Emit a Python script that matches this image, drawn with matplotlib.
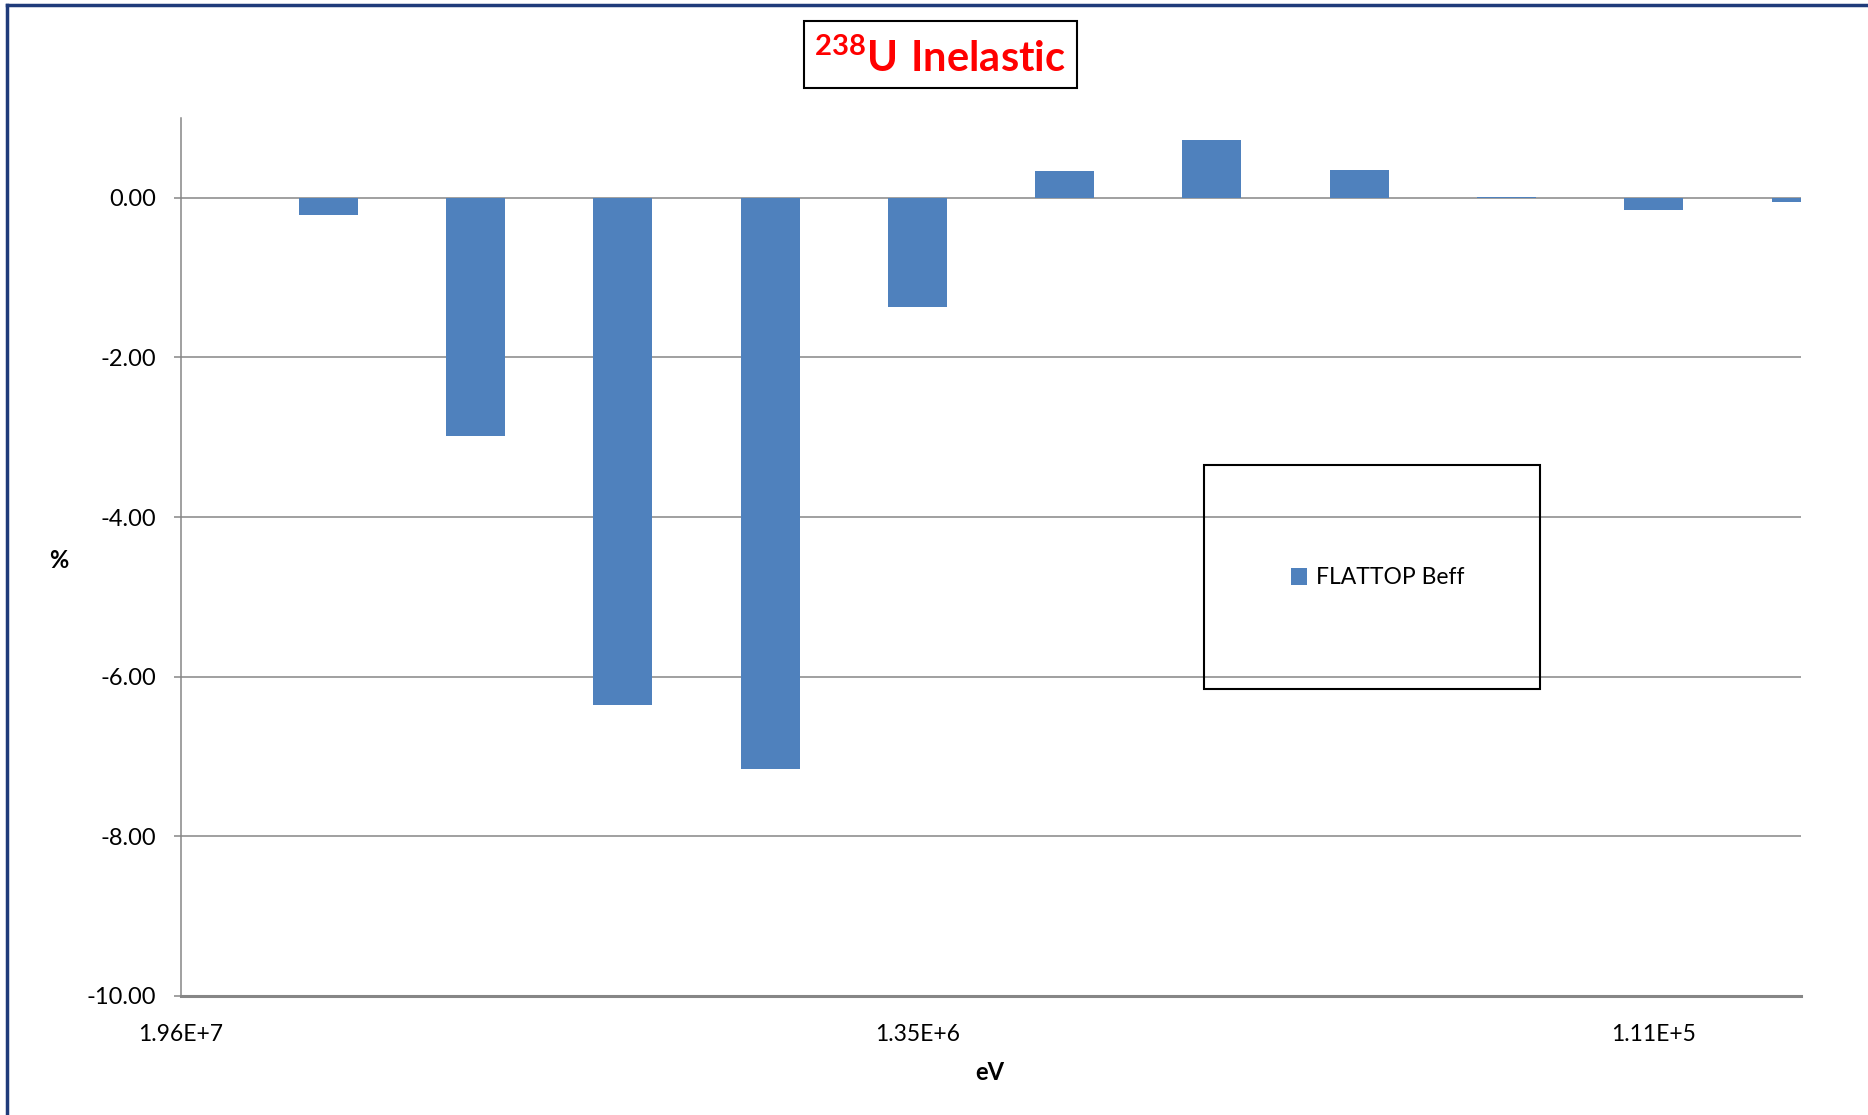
import numpy as np
import matplotlib
matplotlib.use('Agg')
import matplotlib.pyplot as plt
from matplotlib.lines import Line2D
from matplotlib.patches import Rectangle
from matplotlib.ticker import FormatStrFormatter

plt.rcParams['font.family'] = ['Lato', 'DejaVu Sans']
plt.rcParams['axes.unicode_minus'] = False
plt.rcParams['mathtext.fontset'] = 'custom'
plt.rcParams['mathtext.bf'] = 'Lato:bold'
plt.rcParams['mathtext.rm'] = 'Lato'

# Sensitivity per energy group (%), groups ordered from high to low energy
group_index = np.arange(12)
sensitivity = [0.0, -0.22, -2.99, -6.35, -7.15, -1.37, 0.33, 0.72, 0.35, 0.01, -0.15, -0.05]
tick_groups = [0, 5, 10]
tick_labels = ['1.96E+7', '1.35E+6', '1.11E+5']
series_name = 'FLATTOP Beff'

W, H = 1868, 1115
fig = plt.figure(figsize=(W / 100, H / 100), dpi=100)
ax = fig.add_axes([181 / W, 1 - 996 / H, (1801 - 181) / W, (996 - 118) / H])

grid_col = '#868686'
bar_col = '#4F81BD'

ax.bar(group_index, sensitivity, width=0.4, color=bar_col,
       linewidth=0, zorder=3, label=series_name)

ax.set_xlim(0, 11)
ax.set_ylim(-10, 1)
ax.set_yticks(np.arange(-10, 0.1, 2))
ax.yaxis.set_major_formatter(FormatStrFormatter('%.2f'))
ax.set_xticks(tick_groups)
ax.set_xticklabels(tick_labels)

ax.yaxis.grid(True, color=grid_col, linewidth=1.1, zorder=0)
ax.set_axisbelow(True)
for s in ['top', 'right']:
    ax.spines[s].set_visible(False)
ax.spines['left'].set_color(grid_col)
ax.spines['left'].set_linewidth(1.1)
ax.spines['bottom'].set_color(grid_col)
ax.spines['bottom'].set_linewidth(2.2)

ax.tick_params(axis='y', length=5, width=1.1, color=grid_col, pad=13, labelsize=17)
ax.tick_params(axis='x', length=0, pad=20, labelsize=16.5)

ax.set_ylabel('%', fontsize=17, fontweight='bold', rotation=0, va='center', ha='center')
ax.yaxis.set_label_coords((59 - 181) / 1620, (996 - 561) / 878)
ax.set_xlabel('eV', fontsize=17, fontweight='bold', va='center')
ax.xaxis.set_label_coords((990 - 181) / 1620, -(1072 - 996) / 878)

# legend, centred inside its own frame
lx0, lx1, ly0, ly1 = 1204, 1540, 465, 689
ax.add_patch(Rectangle(((lx0 - 181) / 1620, (996 - ly1) / 878),
                       (lx1 - lx0) / 1620, (ly1 - ly0) / 878,
                       transform=ax.transAxes, fill=False, edgecolor='black',
                       linewidth=1.5, zorder=5, clip_on=False))
ax.legend(loc='center', frameon=False, fontsize=16.5,
          bbox_to_anchor=((1378 - 181) / 1620, (996 - 578) / 878),
          handlelength=0.7, handleheight=0.7, handletextpad=0.4)

# title with superscript mass number inside a box
fig.text(940 / W, 1 - 58 / H, r'$\mathbf{^{238}U\ Inelastic}$', color='#FF0000',
         fontsize=30, ha='center', va='center')
fig.add_artist(Rectangle((804 / W, 1 - 88 / H), (1077 - 804) / W, (88 - 21) / H,
                         transform=fig.transFigure, fill=False,
                         edgecolor='black', linewidth=1.5))

# outer chart border (top and left edges)
border = '#1F3B7A'
fig.add_artist(Line2D([7 / W, 1], [1 - 5 / H, 1 - 5 / H], transform=fig.transFigure,
                      color=border, linewidth=2.5))
fig.add_artist(Line2D([7 / W, 7 / W], [0, 1 - 5 / H], transform=fig.transFigure,
                      color=border, linewidth=2.5))

fig.savefig('out.png', dpi=100)
